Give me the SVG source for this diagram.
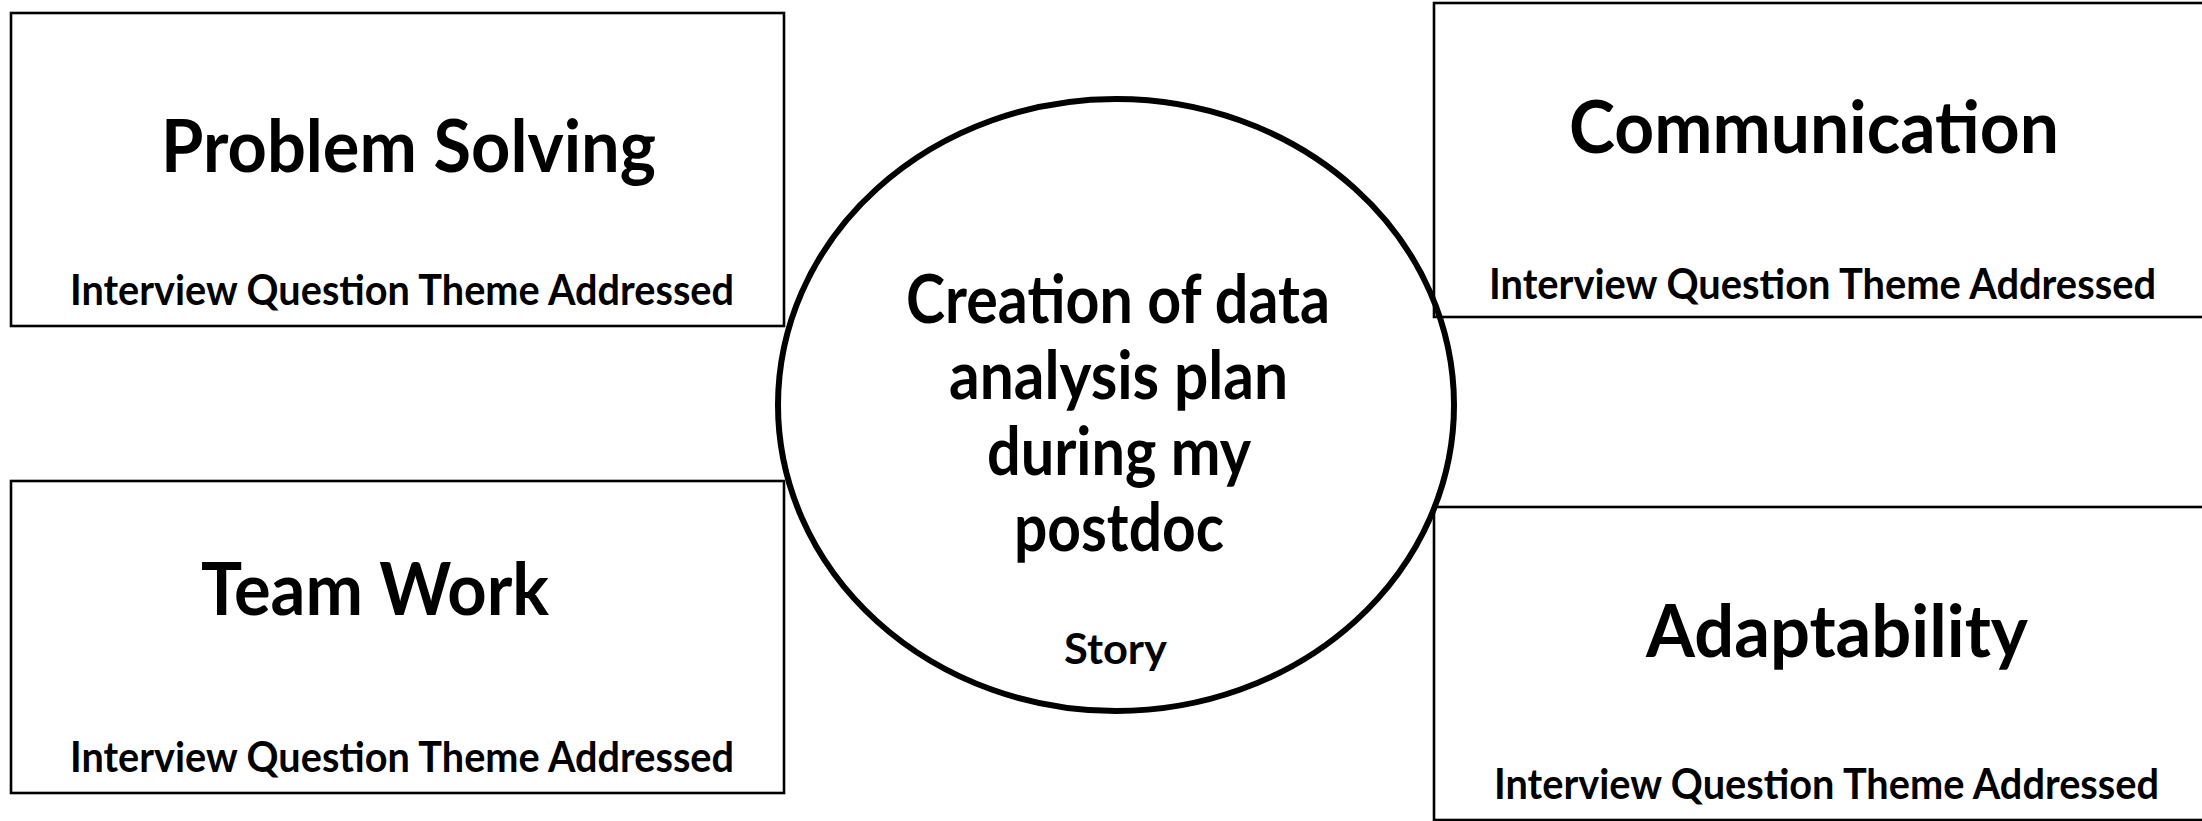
<svg xmlns="http://www.w3.org/2000/svg" width="2202" height="821" viewBox="0 0 2202 821">
<style>
.box{fill:none;stroke:#000;stroke-width:2.6}
.story{fill:#fff;stroke:#000;stroke-width:6}
text{font-family:Lato,"Open Sans","Liberation Sans",sans-serif;font-weight:bold;fill:#000}
.title{font-size:72px}
.sub{font-size:42px}
.ctr{font-size:66px}
.st{font-size:42px}
</style>
<rect width="2202" height="821" fill="#fff"/>
<g id="story">
<ellipse class="story" cx="1116" cy="405" rx="338" ry="306"/>
<text class="ctr" x="906" y="323" textLength="424" lengthAdjust="spacingAndGlyphs">Creation of data</text>
<text class="ctr" x="949" y="399" textLength="339" lengthAdjust="spacingAndGlyphs">analysis plan</text>
<text class="ctr" x="987" y="475" textLength="264" lengthAdjust="spacingAndGlyphs">during my</text>
<text class="ctr" x="1014" y="551" textLength="210" lengthAdjust="spacingAndGlyphs">postdoc</text>
<text class="st" x="1064" y="664" textLength="103" lengthAdjust="spacingAndGlyphs">Story</text>
</g>
<g id="problem-solving">
<rect class="box" x="11" y="13" width="773" height="313"/>
<text class="title" x="161" y="172" textLength="495" lengthAdjust="spacingAndGlyphs">Problem Solving</text>
<text class="sub" x="70" y="305" textLength="664" lengthAdjust="spacingAndGlyphs">Interview Question Theme Addressed</text>
</g>
<g id="team-work">
<rect class="box" x="11" y="481" width="773" height="312"/>
<text class="title" x="201" y="615" textLength="348" lengthAdjust="spacingAndGlyphs">Team Work</text>
<text class="sub" x="70" y="772" textLength="664" lengthAdjust="spacingAndGlyphs">Interview Question Theme Addressed</text>
</g>
<g id="communication">
<rect class="box" x="1434" y="3" width="780" height="314"/>
<text class="title" x="1569" y="153" textLength="490" lengthAdjust="spacingAndGlyphs">Communication</text>
<text class="sub" x="1489" y="299" textLength="667" lengthAdjust="spacingAndGlyphs">Interview Question Theme Addressed</text>
</g>
<g id="adaptability">
<rect class="box" x="1434" y="507" width="780" height="313"/>
<text class="title" x="1646" y="657" textLength="382" lengthAdjust="spacingAndGlyphs">Adaptability</text>
<text class="sub" x="1494" y="799" textLength="665" lengthAdjust="spacingAndGlyphs">Interview Question Theme Addressed</text>
</g>
<g id="connectors"/>
</svg>
